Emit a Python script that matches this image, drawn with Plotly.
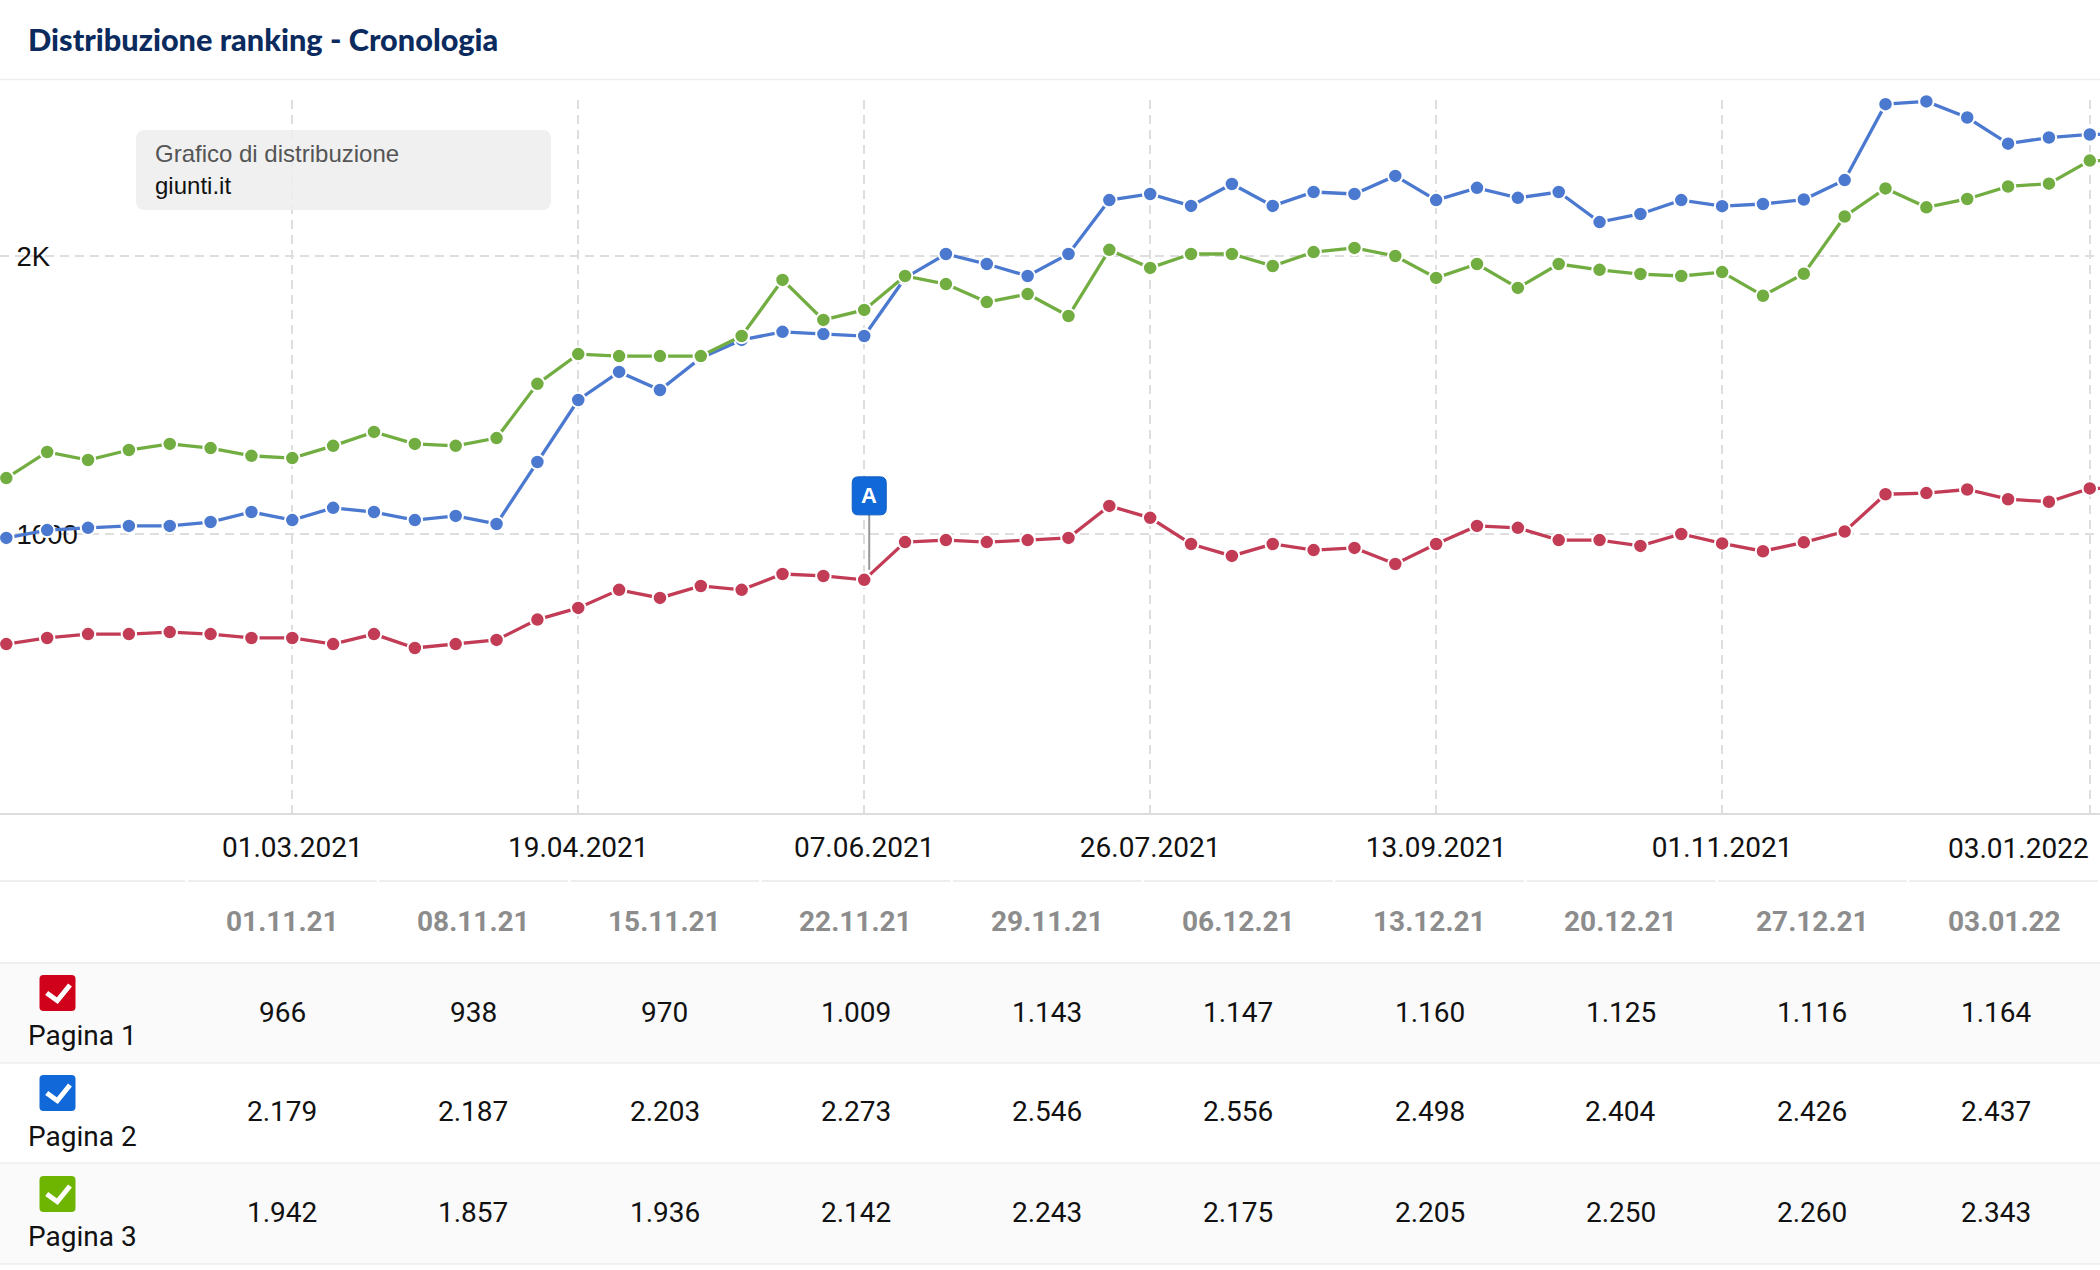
import pandas as pd
import plotly.graph_objects as go

WIDTH = 2100
HEIGHT = 1270

weeks = pd.date_range("2021-01-11", "2022-01-10", freq="7D")

pagina_1 = [604, 626, 640, 640, 647, 640, 626, 626, 604, 640, 590, 604, 619, 692, 734, 799, 770, 813, 799, 856,
            849, 835, 971, 978, 971, 978, 986, 1101, 1058, 964, 921, 964, 942, 950, 892, 964, 1029, 1022, 978, 978,
            957, 1000, 966, 938, 970, 1009, 1143, 1147, 1160, 1125, 1116, 1164, 1164]
pagina_2 = [986, 1014, 1022, 1029, 1029, 1043, 1079, 1050, 1094, 1079, 1050, 1065, 1036, 1259, 1482, 1583, 1518, 1633,
            1698, 1727, 1719, 1712, 1921, 2007, 1971, 1928, 2007, 2201, 2223, 2180, 2259, 2180, 2230, 2223, 2288, 2201,
            2245, 2209, 2230, 2122, 2151, 2201, 2179, 2187, 2203, 2273, 2546, 2556, 2498, 2404, 2426, 2437, 2437]
pagina_3 = [1201, 1295, 1266, 1302, 1324, 1309, 1281, 1273, 1317, 1367, 1324, 1317, 1345, 1540, 1647, 1640, 1640, 1640,
            1712, 1914, 1770, 1806, 1928, 1899, 1834, 1863, 1784, 2022, 1957, 2007, 2007, 1964, 2014, 2029, 2000, 1921,
            1971, 1885, 1971, 1950, 1935, 1928, 1942, 1857, 1936, 2142, 2243, 2175, 2205, 2250, 2260, 2343, 2343]

tick_dates = ["2021-03-01", "2021-04-19", "2021-06-07", "2021-07-26", "2021-09-13", "2021-11-01", "2022-01-03"]
tick_labels = ["01.03.2021", "19.04.2021", "07.06.2021", "26.07.2021", "13.09.2021", "01.11.2021", ""]
last_tick_label = "03.01.2022"

table_dates = ["01.11.21", "08.11.21", "15.11.21", "22.11.21", "29.11.21", "06.12.21", "13.12.21", "20.12.21",
               "27.12.21", "03.01.22"]
table_rows = {
    "Pagina 1": ["966", "938", "970", "1.009", "1.143", "1.147", "1.160", "1.125", "1.116", "1.164"],
    "Pagina 2": ["2.179", "2.187", "2.203", "2.273", "2.546", "2.556", "2.498", "2.404", "2.426", "2.437"],
    "Pagina 3": ["1.942", "1.857", "1.936", "2.142", "2.243", "2.175", "2.205", "2.250", "2.260", "2.343"],
}

LINE_COLORS = {"Pagina 1": "#c23c56", "Pagina 2": "#4c79d0", "Pagina 3": "#72ad42"}
BOX_COLORS = {"Pagina 1": "#d0021b", "Pagina 2": "#1168d8", "Pagina 3": "#6db500"}
GRID = "#dedede"
RULE = "#eeeeee"
TEXT = "#111111"


def px(x):
    return x / WIDTH


def py(y):
    return 1 - y / HEIGHT


def rounded(x0, y0, x1, y1, r):
    # rounded rectangle as an svg path in paper coordinates
    return (f"M {px(x0 + r)} {py(y0)} L {px(x1 - r)} {py(y0)} Q {px(x1)} {py(y0)} {px(x1)} {py(y0 + r)} "
            f"L {px(x1)} {py(y1 - r)} Q {px(x1)} {py(y1)} {px(x1 - r)} {py(y1)} "
            f"L {px(x0 + r)} {py(y1)} Q {px(x0)} {py(y1)} {px(x0)} {py(y1 - r)} "
            f"L {px(x0)} {py(y0 + r)} Q {px(x0)} {py(y0)} {px(x0 + r)} {py(y0)} Z")


def rule(x0, x1, y, width=2, color=RULE):
    fig.add_shape(type="line", xref="paper", yref="paper", x0=px(x0), x1=px(x1), y0=py(y), y1=py(y),
                  line=dict(color=color, width=width))


def label(text, x, y, size=28, color=TEXT, anchor="center", family="Roboto", weight=400):
    fig.add_annotation(text=text, xref="paper", yref="paper", x=px(x), y=py(y), xanchor=anchor, yanchor="middle",
                       showarrow=False, font=dict(family=family, size=size, color=color, weight=weight))


fig = go.Figure()

# Green sits on top of blue, so the order matters
for name, values in [("Pagina 1", pagina_1), ("Pagina 2", pagina_2), ("Pagina 3", pagina_3)]:
    fig.add_trace(go.Scatter(
        x=weeks, y=values, name=name, mode="lines+markers", cliponaxis=False,
        line=dict(color=LINE_COLORS[name], width=3.3),
        marker=dict(color=LINE_COLORS[name], size=14.5, line=dict(color="white", width=2)),
    ))

# Row stripes
fig.add_shape(type="rect", xref="paper", yref="paper", x0=0, x1=1, y0=py(963), y1=py(1063),
              fillcolor="#fafafa", line_width=0, layer="below")
fig.add_shape(type="rect", xref="paper", yref="paper", x0=0, x1=1, y0=py(1163), y1=py(1264),
              fillcolor="#fafafa", line_width=0, layer="below")

# Title and its rule
label("Distribuzione ranking - Cronologia", 26, 40, size=30.7, color="#0b2b5e", anchor="left", family="Lato", weight=900)
rule(0, WIDTH, 79.5, width=1.5)

# Info box over the plot
fig.add_shape(type="path", xref="paper", yref="paper", path=rounded(136, 130, 551, 210, 9),
              fillcolor="rgba(238,238,238,0.88)", line_width=0)
label("Grafico di distribuzione", 153, 154, size=24, color="#555555", anchor="left", family="Liberation Sans")
label("giunti.it", 153, 186, size=24, color="#111111", anchor="left", family="Liberation Sans")

# Flag A, pinned to the red point of 07.06.2021
flag_y = pagina_1[list(weeks.strftime("%Y-%m-%d")).index("2021-06-07")]
fig.add_shape(type="line", xref="x", yref="y", xsizemode="pixel", ysizemode="pixel",
              xanchor="2021-06-07", yanchor=flag_y, x0=5, x1=5, y0=10, y1=66,
              line=dict(color="#999999", width=2))
fig.add_shape(type="path", xref="x", yref="y", xsizemode="pixel", ysizemode="pixel",
              xanchor="2021-06-07", yanchor=flag_y,
              path="M -6 103 L 16 103 Q 22 103 22 97 L 22 71 Q 22 65 16 65 L -6 65 Q -12 65 -12 71 L -12 97 Q -12 103 -6 103 Z",
              fillcolor="#1168d8", line=dict(color="#0d5cc0", width=1))
fig.add_annotation(text="A", xref="x", yref="y", x="2021-06-07", y=flag_y, xshift=5, yshift=84, showarrow=False,
                   font=dict(family="Liberation Sans", size=22, color="white", weight=700))

# Last date label is pushed left to stay inside the page
fig.add_annotation(text=last_tick_label, xref="x", yref="paper", x="2022-01-03", y=py(848), xshift=-71,
                   xanchor="center", yanchor="middle", showarrow=False,
                   font=dict(family="Roboto", size=28, color=TEXT))

# Table
col_centers = [282 + 191.25 * i for i in range(9)]
header_centers = col_centers + [2004]
value_centers = col_centers + [1996]

rule(0, 185, 881)
for i in range(10):
    rule(188 + 191.25 * i, min(188 + 191.25 * i + 188.5, 2098), 881)
rule(0, WIDTH, 963)
rule(0, WIDTH, 1063, width=1.5)
rule(0, WIDTH, 1163, width=1.5)
rule(0, WIDTH, 1264, width=1.5)

for date, x in zip(table_dates, header_centers):
    label(date, x, 921, color="#8c8c8c", weight=700)

row_value_y = [1012, 1111, 1212]
row_label_y = [1035, 1136, 1236]
row_box_y = [975, 1075, 1176]
for i, (name, cells) in enumerate(table_rows.items()):
    for cell, x in zip(cells, value_centers):
        label(cell, x, row_value_y[i])
    label(name, 26, row_label_y[i], anchor="left")
    top = row_box_y[i]
    fig.add_shape(type="path", xref="paper", yref="paper", path=rounded(39.5, top, 75.5, top + 36, 4),
                  fillcolor=BOX_COLORS[name], line_width=0)
    fig.add_shape(type="path", xref="paper", yref="paper",
                  path=f"M {px(46.7)} {py(top + 18)} L {px(57.3)} {py(top + 25.7)} L {px(70)} {py(top + 10)}",
                  line=dict(color="white", width=5))

fig.update_layout(
    width=WIDTH,
    height=HEIGHT,
    margin=dict(l=0, r=0, t=0, b=0),
    paper_bgcolor="white",
    plot_bgcolor="white",
    showlegend=False,
    xaxis=dict(
        type="date",
        domain=[0, 1],
        range=["2021-01-09 22:00", "2022-01-04 18:00"],
        tickvals=tick_dates,
        ticktext=tick_labels,
        tickfont=dict(family="Roboto", size=28, color=TEXT),
        ticks="",
        ticklabelstandoff=8,
        showgrid=True,
        gridcolor=GRID,
        gridwidth=2,
        griddash="9px,6px",
        zeroline=False,
        showline=True,
        linecolor="#dddddd",
        linewidth=2,
    ),
    yaxis=dict(
        domain=[py(813), py(100)],
        range=[-3.6, 2561],
        tickvals=[1000, 2000],
        ticktext=["1000", "2K"],
        tickfont=dict(family="Liberation Sans", size=27.5, color="#111111"),
        ticks="inside",
        ticklen=19,
        tickcolor="rgba(0,0,0,0)",
        ticklabelposition="inside",
        layer="below traces",
        showgrid=True,
        gridcolor=GRID,
        gridwidth=2,
        griddash="9px,6px",
        zeroline=False,
        showline=False,
    ),
)

# The browser's default body margin would shift the whole page by 8px
fig.write_html("out.html", config={"displayModeBar": False},
               post_script="document.body.style.margin = '0'; document.documentElement.style.overflow = 'hidden';")
